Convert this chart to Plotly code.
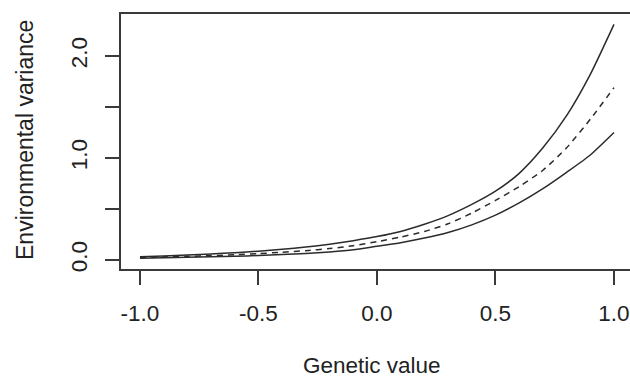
import plotly.graph_objects as go

# Data
genetic_value = [-1.0, -0.9, -0.8, -0.7, -0.6, -0.5, -0.4, -0.3, -0.2, -0.1, 0.0,
                 0.1, 0.2, 0.3, 0.4, 0.5, 0.6, 0.7, 0.8, 0.9, 1.0]
upper_bound = [0.033, 0.040, 0.049, 0.060, 0.072, 0.087, 0.105, 0.127, 0.155, 0.19, 0.23,
               0.28, 0.35, 0.435, 0.545, 0.675, 0.85, 1.10, 1.415, 1.82, 2.31]
mean_variance = [0.025, 0.030, 0.036, 0.043, 0.052, 0.063, 0.076, 0.092, 0.112, 0.14, 0.18,
                 0.225, 0.28, 0.355, 0.46, 0.585, 0.72, 0.88, 1.10, 1.38, 1.69]
lower_bound = [0.018, 0.022, 0.026, 0.031, 0.037, 0.044, 0.053, 0.064, 0.079, 0.10, 0.135,
               0.17, 0.215, 0.27, 0.345, 0.44, 0.56, 0.70, 0.86, 1.03, 1.25]

x_ticks = [-1.0, -0.5, 0.0, 0.5, 1.0]
x_tick_labels = ["-1.0", "-0.5", "0.0", "0.5", "1.0"]
y_ticks = [0.0, 0.5, 1.0, 1.5, 2.0]
y_tick_labels = ["0.0", "", "1.0", "", "2.0"]

FONT = "Liberation Sans, Arial, Helvetica, sans-serif"
LINE_COLOR = "#2b2b2b"
AXIS_COLOR = "#3a3a3a"
TEXT_COLOR = "#222222"

fig = go.Figure()
fig.add_trace(go.Scatter(x=genetic_value, y=upper_bound, mode="lines",
                         line=dict(color=LINE_COLOR, width=1.5, shape="spline", smoothing=0.6),
                         showlegend=False))
fig.add_trace(go.Scatter(x=genetic_value, y=mean_variance, mode="lines",
                         line=dict(color=LINE_COLOR, width=1.5, dash="6px,5px",
                                   shape="spline", smoothing=0.6),
                         showlegend=False))
fig.add_trace(go.Scatter(x=genetic_value, y=lower_bound, mode="lines",
                         line=dict(color=LINE_COLOR, width=1.5, shape="spline", smoothing=0.6),
                         showlegend=False))

fig.update_layout(
    width=630, height=377,
    margin=dict(l=121, r=0, t=14, b=108),
    paper_bgcolor="white", plot_bgcolor="white",
    font=dict(family=FONT, size=22.5, color=TEXT_COLOR),
    xaxis=dict(range=[-1.08, 1.0675], tickvals=x_ticks, ticktext=x_tick_labels,
               showgrid=False, zeroline=False, showline=True, mirror=True,
               linecolor=AXIS_COLOR, linewidth=1.5,
               ticks="outside", ticklen=14, tickwidth=1.5, tickcolor=AXIS_COLOR,
               ticklabelstandoff=9),
    yaxis=dict(range=[-0.088, 2.412], tickvals=y_ticks, ticktext=y_tick_labels,
               tickangle=-90,
               showgrid=False, zeroline=False, showline=True, mirror=False,
               linecolor=AXIS_COLOR, linewidth=1.5,
               ticks="outside", ticklen=14, tickwidth=1.5, tickcolor=AXIS_COLOR,
               ticklabelstandoff=9),
    annotations=[
        dict(text="Genetic value", xref="paper", yref="paper",
             x=(372 - 121) / 509, y=(269 - 365) / 255,
             xanchor="center", yanchor="middle", showarrow=False,
             font=dict(family=FONT, size=22.5, color=TEXT_COLOR)),
        dict(text="Environmental variance", xref="paper", yref="paper",
             x=(25 - 121) / 509, y=(269 - 140) / 255, textangle=-90,
             xanchor="center", yanchor="middle", showarrow=False,
             font=dict(family=FONT, size=23, color=TEXT_COLOR)),
    ],
)

fig.write_html("out.html", config={"displayModeBar": False},
               post_script="document.body.style.margin='0';")
